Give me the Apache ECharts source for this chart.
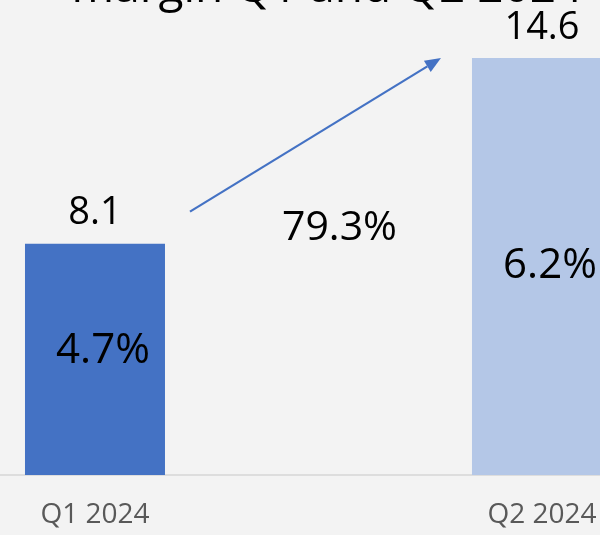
<!DOCTYPE html>
<html>
<head>
<meta charset="utf-8">
<script src="https://cdn.jsdelivr.net/npm/echarts@6/dist/echarts.min.js"></script>
<style>
  html, body { margin: 0; padding: 0; background: #f3f3f3; }
  #chart { width: 600px; height: 535px; }
</style>
</head>
<body>
<div id="chart"></div>
<script>
const categories = ['Q1 2024', 'Q2 2024'];
const values = [8.1, 14.6];
const margins = ['4.7%', '6.2%'];
const growth = '79.3%';
const barColors = ['#4472C4', '#B4C7E7'];
const titleText = 'margin Q1 and Q2 2024';

const font = '"Open Sans", "Liberation Sans", sans-serif';
const chart = echarts.init(document.getElementById('chart'));

// the source picture is a crop: category slots are wider than the view
const xMin = -0.2125, xMax = 1.1298;

const option = {
  backgroundColor: '#f3f3f3',
  animation: false,
  grid: { left: 0, right: 0, top: 18, height: 457 },
  xAxis: {
    type: 'value', min: xMin, max: xMax,
    splitLine: { show: false },
    axisLine: { show: true, lineStyle: { color: '#d6d6d6', width: 1.5 } },
    axisTick: { show: false },
    axisLabel: {
      customValues: [0, 1],
      formatter: v => categories[Math.round(v)],
      color: '#595959', fontSize: 28, fontFamily: font, margin: 26
    }
  },
  yAxis: {
    type: 'value', min: 0, max: 16,
    show: false
  },
  series: [
    {
      type: 'bar',
      barWidth: 140,
      data: values.map((v, i) => ({ value: [i, v], itemStyle: { color: barColors[i] } })),
      label: {
        show: true, position: 'top', distance: 11,
        formatter: p => values[p.dataIndex],
        color: '#000', fontSize: 38, fontFamily: font
      }
    },
    {
      type: 'bar',
      barWidth: 140,
      barGap: '-100%',
      data: values.map((v, i) => ({
        value: [i, v],
        itemStyle: { color: 'transparent' },
        label: { offset: [8, i === 0 ? -8 : 0] }
      })),
      label: {
        show: true, position: 'inside',
        formatter: p => margins[p.dataIndex],
        color: '#000', fontSize: 42, fontFamily: font
      }
    }
  ]
};
chart.setOption(option);

// arrow and growth text placed from the bar positions
const p1 = chart.convertToPixel({ gridIndex: 0 }, [0, values[0]]);
const p2 = chart.convertToPixel({ gridIndex: 0 }, [1, values[1]]);
const x1 = p1[0] + 95, y1 = p1[1] - 32;
const x2 = p2[0] - 101, y2 = p2[1];
const ang = Math.atan2(y2 - y1, x2 - x1);
const headLen = 16, headW = 6.5;
const bx = x2 - headLen * Math.cos(ang), by = y2 - headLen * Math.sin(ang);

chart.setOption({
  graphic: [
    {
      type: 'text', x: 327, y: 12,
      style: {
        text: titleText, fontSize: 46, fontFamily: font, fill: '#000',
        align: 'center', verticalAlign: 'bottom'
      }
    },
    {
      type: 'line',
      shape: { x1: x1, y1: y1, x2: bx, y2: by },
      style: { stroke: '#4472C4', lineWidth: 2.2 }
    },
    {
      type: 'polygon',
      shape: { points: [
        [x2, y2],
        [bx + headW * Math.sin(ang), by - headW * Math.cos(ang)],
        [bx - headW * Math.sin(ang), by + headW * Math.cos(ang)]
      ] },
      style: { fill: '#4472C4' }
    },
    {
      type: 'text',
      x: (p1[0] + p2[0]) / 2 + 21, y: p1[1] - 15,
      style: {
        text: growth, fontSize: 41, fontFamily: font, fill: '#000',
        align: 'center', verticalAlign: 'middle'
      }
    }
  ]
});
</script>
</body>
</html>
